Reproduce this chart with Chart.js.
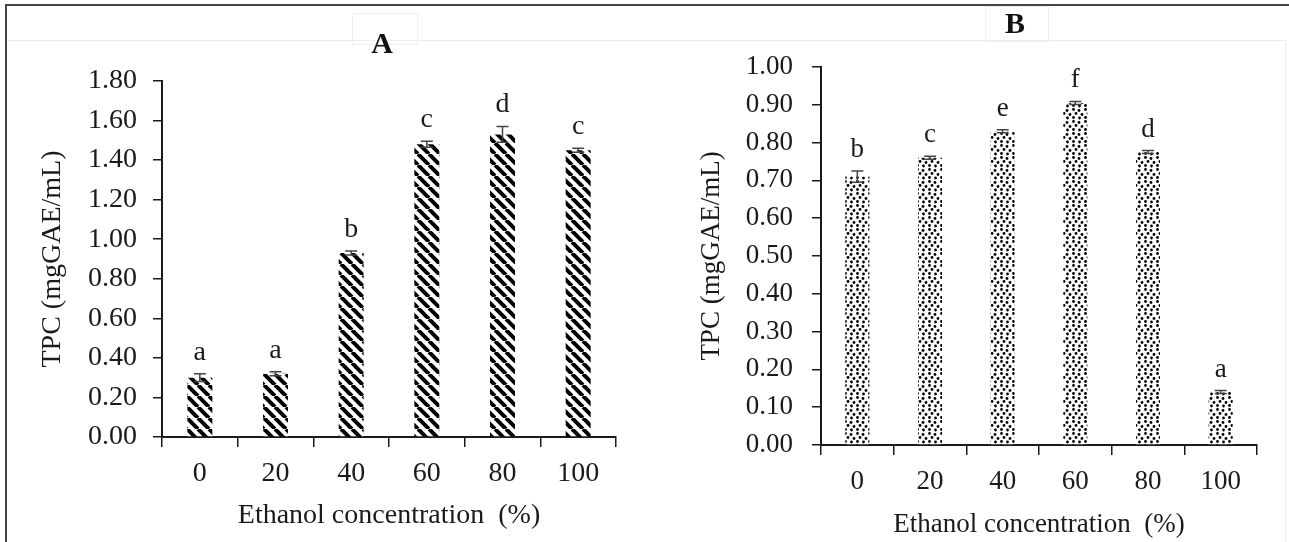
<!DOCTYPE html>
<html>
<head>
<meta charset="utf-8">
<title>TPC vs ethanol concentration</title>
<script src="https://cdn.jsdelivr.net/npm/chart.js@4.4.1/dist/chart.umd.min.js"></script>
<style>
  html, body { margin: 0; padding: 0; background: #fff; }
  #wrap { position: relative; width: 1289px; height: 542px; overflow: hidden; background: #fff; }
  #wrap canvas { position: absolute; top: 0; }
  #chartA { left: 0; }
  #chartB { left: 640px; }
  .line { position: absolute; }
  .frame { background: #444; }
  .faint { background: #ececec; }
  .title-box { position: absolute; border: 1px solid #efefef; }
  .panel-title {
    position: absolute;
    transform: translate(-50%, -50%);
    font: bold 30px 'Liberation Serif', 'Times New Roman', serif;
    line-height: 1;
    color: #111;
  }
</style>
</head>
<body>
<div id="wrap">
  <!-- figure frame (scanned look) -->
  <div class="line faint" style="left:8px;top:40px;width:1277px;height:1px;"></div>
  <div class="line faint" style="left:1285px;top:40px;width:1px;height:502px;"></div>
  <div class="title-box" style="left:352px;top:13px;width:64px;height:30px;"></div>
  <div class="title-box" style="left:985px;top:6px;width:62px;height:34px;"></div>
  <canvas id="chartA" width="640" height="542"></canvas>
  <canvas id="chartB" width="649" height="542"></canvas>
  <div class="line frame" style="left:5px;top:4px;width:1284px;height:2px;"></div>
  <div class="line frame" style="left:5px;top:4px;width:2px;height:538px;"></div>
  <div class="panel-title" style="left:382px;top:43px;">A</div>
  <div class="panel-title" style="left:1015px;top:23px;">B</div>
</div>

<script>
/* ── Data ── */
var categories = ['0', '20', '40', '60', '80', '100'];

// Panel A: striped bars
var tpcA     = [0.30, 0.32, 0.93, 1.48, 1.53, 1.45];
var errA     = [0.02, 0.01, 0.01, 0.015, 0.04, 0.01];
var lettersA = ['a', 'a', 'b', 'c', 'd', 'c'];
var yTicksA  = [0.00, 0.20, 0.40, 0.60, 0.80, 1.00, 1.20, 1.40, 1.60, 1.80];

// Panel B: dotted bars
var tpcB     = [0.71, 0.76, 0.83, 0.905, 0.775, 0.14];
var errB     = [0.015, 0.004, 0.004, 0.004, 0.004, 0.004];
var lettersB = ['b', 'c', 'e', 'f', 'd', 'a'];
var yTicksB  = [0.00, 0.10, 0.20, 0.30, 0.40, 0.50, 0.60, 0.70, 0.80, 0.90, 1.00];

var xTitle = 'Ethanol concentration  (%)';
var yTitle = 'TPC (mgGAE/mL)';

(function () {
  'use strict';

  var SERIF = "'Liberation Serif', 'Times New Roman', serif";
  var INK   = '#1a1a1a';

  /* ── Fill patterns ── */
  function hatchPattern() {
    var s = 11;
    var c = document.createElement('canvas');
    c.width = s; c.height = s;
    var g = c.getContext('2d');
    g.fillStyle = '#fff';
    g.fillRect(0, 0, s, s);
    g.strokeStyle = '#000';
    g.lineWidth = 4;
    g.beginPath();
    for (var k = -1; k <= 1; k++) {
      g.moveTo(k * s, 0);
      g.lineTo(k * s + s, s);
    }
    g.stroke();
    return g.createPattern(c, 'repeat');
  }

  function dotPattern() {
    var s = 12;
    var c = document.createElement('canvas');
    c.width = s; c.height = s;
    var g = c.getContext('2d');
    g.fillStyle = '#fff';
    g.fillRect(0, 0, s, s);
    g.fillStyle = '#000';
    [[1.5, 1.5], [7, 2.5], [4, 5.5], [10, 6.5], [1.5, 9.5], [7.5, 10]].forEach(function (p) {
      g.beginPath();
      g.arc(p[0], p[1], 1.4, 0, Math.PI * 2);
      g.fill();
    });
    return g.createPattern(c, 'repeat');
  }

  /* ── Error bars + significance letters ── */
  var errorBars = {
    id: 'errorBars',
    afterDatasetsDraw: function (chart, args, o) {
      var ctx  = chart.ctx;
      var y    = chart.scales.y;
      var meta = chart.getDatasetMeta(0);
      ctx.save();
      ctx.strokeStyle = '#444';
      ctx.lineWidth = 1.5;
      ctx.fillStyle = INK;
      ctx.font = o.fontSize + 'px ' + SERIF;
      ctx.textAlign = 'center';
      ctx.textBaseline = 'alphabetic';
      meta.data.forEach(function (bar, i) {
        var v = o.values[i], e = o.errors[i];
        var top = y.getPixelForValue(v + e);
        var bot = y.getPixelForValue(v - e);
        var cap = 6;
        ctx.beginPath();
        ctx.moveTo(bar.x, top);       ctx.lineTo(bar.x, bot);
        ctx.moveTo(bar.x - cap, top); ctx.lineTo(bar.x + cap, top);
        ctx.moveTo(bar.x - cap, bot); ctx.lineTo(bar.x + cap, bot);
        ctx.stroke();
        ctx.fillText(o.letters[i], bar.x, top - 14);
      });
      ctx.restore();
    }
  };

  /**
   * One panel.
   * cfg: values, errors, letters, ticks, fill, fontSize, axisW, axisH,
   *      padTop, padRight, yTitlePad, xTitlePad, xLabelPad, yLabelPad
   */
  function panel(canvas, cfg) {
    var font = { family: SERIF, size: cfg.fontSize };
    return new Chart(canvas, {
      type: 'bar',
      data: {
        labels: categories,
        datasets: [{
          data: cfg.values,
          backgroundColor: cfg.fill,
          borderWidth: 0,
          barPercentage: 0.33,
          categoryPercentage: 1.0
        }]
      },
      options: {
        responsive: false,
        animation: false,
        layout: { padding: { top: cfg.padTop, right: cfg.padRight, left: 0, bottom: 0 } },
        plugins: {
          legend: { display: false },
          tooltip: { enabled: false },
          errorBars: {
            values: cfg.values,
            errors: cfg.errors,
            letters: cfg.letters,
            fontSize: cfg.fontSize
          }
        },
        scales: {
          x: {
            afterFit: function (s) { s.height = cfg.axisH; },
            grid: { display: true, offset: true, drawOnChartArea: false, drawTicks: true,
                    tickLength: 10, color: INK, lineWidth: 1.5 },
            border: { display: true, color: INK, width: 2 },
            ticks: { color: INK, font: font, padding: cfg.xLabelPad, maxRotation: 0, autoSkip: false },
            title: { display: true, text: xTitle, color: INK, font: font,
                     padding: { top: 0, bottom: cfg.xTitlePad } }
          },
          y: {
            min: cfg.ticks[0],
            max: cfg.ticks[cfg.ticks.length - 1],
            afterFit: function (s) { s.width = cfg.axisW; },
            afterBuildTicks: function (s) {
              s.ticks = cfg.ticks.map(function (t) { return { value: t }; });
            },
            grid: { display: true, drawOnChartArea: false, drawTicks: true,
                    tickLength: 9, color: INK, lineWidth: 1.5 },
            border: { display: true, color: INK, width: 2 },
            ticks: {
              color: INK, font: font, padding: cfg.yLabelPad,
              callback: function (v) { return Number(v).toFixed(2); }
            },
            title: { display: true, text: yTitle, color: INK, font: font,
                     padding: { top: cfg.yTitlePad, bottom: 0 } }
          }
        }
      },
      plugins: [errorBars]
    });
  }

  panel(document.getElementById('chartA'), {
    values: tpcA, errors: errA, letters: lettersA, ticks: yTicksA,
    fill: hatchPattern(), fontSize: 28,
    axisW: 162, axisH: 105, padTop: 81, padRight: 24,
    yTitlePad: 36, xTitlePad: 10, xLabelPad: 10, yLabelPad: 16
  });

  panel(document.getElementById('chartB'), {
    values: tpcB, errors: errB, letters: lettersB, ticks: yTicksB,
    fill: dotPattern(), fontSize: 27,
    axisW: 181, axisH: 97, padTop: 67, padRight: 32,
    yTitlePad: 56, xTitlePad: 1, xLabelPad: 11, yLabelPad: 19
  });
})();
</script>
</body>
</html>
